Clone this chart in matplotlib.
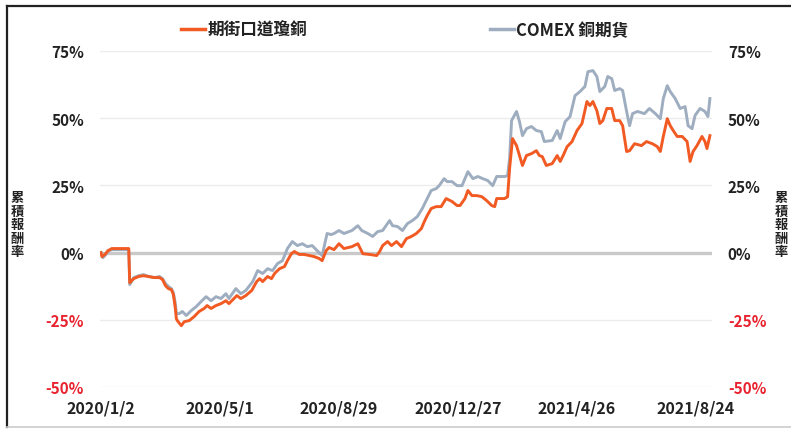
import pandas as pd
import matplotlib.pyplot as plt
from matplotlib.lines import Line2D

plt.rcParams['font.family'] = ['Noto Sans CJK TC', 'DejaVu Sans']

START = pd.Timestamp('2020-01-02')

# 期街口道瓊銅 (cumulative return, %), days since 2020/1/2
etf_days = [0, 1, 4, 7, 11, 28, 29, 33, 38, 43, 48, 54, 59, 62, 65, 68, 71, 73, 75,
            76, 77, 81, 84, 89, 94, 99, 104, 107, 111, 116, 121, 126, 129, 134, 137,
            141, 146, 152, 157, 160, 163, 168, 172, 175, 180, 185, 188, 192, 195,
            200, 205, 210, 215, 220, 223, 227, 230, 235, 240, 245, 253, 259, 264,
            271, 278, 281, 284, 289, 293, 298, 303, 308, 313, 318, 323, 326, 329,
            333, 338, 343, 348, 354, 359, 362, 367, 370, 374, 379, 384, 389, 394,
            397, 399, 407, 410, 412, 415, 419, 422, 425, 429, 434, 439, 442, 445,
            449, 455, 460, 463, 466, 470, 475, 480, 485, 490, 493, 496, 500, 503,
            506, 510, 515, 518, 523, 526, 530, 533, 538, 545, 550, 556, 561, 564,
            567, 571, 574, 577, 581, 586, 591, 594, 597, 601, 606, 609, 611, 614]
etf_ret = [0.0, -1.5, -0.7, 0.7, 1.5, 1.5, -11.2, -9.7, -8.9, -8.6, -8.9, -9.3, -9.3,
           -10.0, -12.3, -13.4, -13.8, -15.6, -20.8, -24.6, -25.3, -27.2, -25.7,
           -25.3, -23.8, -21.9, -20.8, -19.7, -20.8, -19.7, -19.0, -17.9, -19.0,
           -17.1, -16.0, -17.1, -16.0, -14.1, -10.8, -9.7, -10.8, -8.9, -9.7, -7.8,
           -6.0, -5.2, -3.0, -0.4, 0.4, -0.7, -0.7, -1.1, -1.5, -2.2, -3.0, 0.7, 1.9,
           1.1, 3.3, 1.5, 2.2, 3.3, -0.4, -0.7, -1.1, 0.4, 2.6, 4.1, 2.6, 4.1, 2.2,
           5.2, 6.0, 7.1, 8.9, 11.5, 13.8, 16.4, 17.1, 17.1, 20.1, 19.0, 17.5, 17.5,
           20.1, 23.1, 21.2, 21.2, 20.8, 19.3, 17.5, 17.1, 20.1, 20.1, 20.8, 31.2,
           42.4, 39.8, 36.1, 32.4, 36.1, 36.8, 37.9, 36.1, 35.7, 32.4, 33.1, 36.1,
           33.9, 36.1, 39.4, 41.3, 45.4, 48.0, 56.2, 54.7, 56.2, 52.8, 48.0, 49.1,
           53.6, 53.6, 49.1, 49.1, 47.2, 37.6, 37.9, 40.5, 39.8, 41.3, 40.5, 39.4,
           37.6, 43.2, 49.8, 47.2, 45.4, 43.2, 43.2, 41.3, 33.9, 37.6, 39.8, 43.2,
           41.3, 38.7, 43.5]

# COMEX 銅期貨 (cumulative return, %)
comex_days = [0, 2, 5, 8, 11, 28, 29, 33, 38, 43, 48, 54, 59, 62, 65, 68, 71, 73, 75,
              76, 79, 82, 86, 91, 96, 101, 106, 111, 116, 121, 126, 129, 136, 141,
              146, 153, 158, 163, 168, 173, 178, 183, 188, 193, 198, 203, 208, 213,
              218, 223, 228, 232, 235, 240, 245, 253, 259, 263, 269, 274, 279, 284,
              291, 294, 299, 304, 309, 314, 319, 324, 329, 333, 338, 341, 346, 349,
              354, 359, 364, 367, 370, 375, 380, 385, 390, 395, 399, 407, 410, 412,
              414, 419, 422, 425, 429, 434, 439, 444, 447, 455, 460, 463, 468, 473,
              478, 483, 488, 491, 496, 500, 503, 508, 511, 515, 518, 523, 526, 530,
              533, 536, 541, 548, 553, 559, 564, 567, 571, 574, 579, 584, 589, 592,
              596, 599, 604, 609, 612, 614]
comex_ret = [0.0, -1.9, -0.7, 0.7, 1.1, 1.1, -11.9, -9.3, -8.6, -8.2, -8.9, -9.3,
             -8.9, -9.7, -11.5, -12.6, -13.4, -14.9, -19.0, -22.7, -22.7, -21.9,
             -23.4, -21.6, -20.1, -18.2, -16.4, -17.9, -16.4, -17.1, -15.3, -17.1,
             -13.4, -15.3, -14.1, -10.8, -6.7, -7.8, -6.0, -6.7, -4.1, -3.0, 1.5,
             4.1, 2.6, 3.3, 2.2, 2.6, 0.7, -1.1, 7.1, 6.7, 7.1, 8.2, 7.1, 8.2, 10.0,
             8.2, 7.1, 6.0, 7.8, 8.2, 11.9, 10.0, 9.7, 8.2, 10.8, 11.9, 13.4, 16.4,
             20.1, 23.1, 23.8, 24.9, 27.5, 26.4, 26.4, 24.9, 24.9, 27.5, 30.1, 27.5,
             28.3, 27.5, 26.8, 24.9, 28.3, 28.3, 28.6, 35.0, 49.1, 52.5, 48.7, 43.5,
             46.1, 46.9, 45.4, 45.0, 41.3, 41.7, 45.4, 42.4, 48.7, 50.6, 58.4, 59.9,
             61.8, 67.3, 67.7, 65.5, 59.9, 61.8, 65.5, 64.7, 60.3, 61.0, 60.3, 52.5,
             47.2, 51.7, 52.5, 51.7, 53.6, 51.7, 49.8, 57.3, 62.1, 59.9, 57.3, 53.6,
             54.3, 47.2, 46.1, 51.0, 53.6, 52.5, 50.6, 57.3]

tick_dates = ['2020/1/2', '2020/5/1', '2020/8/29', '2020/12/27', '2021/4/26', '2021/8/24']
y_ticks = [-50, -25, 0, 25, 50, 75]

etf_x = START + pd.to_timedelta(etf_days, unit='D')
comex_x = START + pd.to_timedelta(comex_days, unit='D')

orange = '#f15a22'
steel = '#9eadbf'
red = '#e8232f'
ink = '#222222'

fig = plt.figure(figsize=(7.91, 4.31), dpi=100)
ax = fig.add_axes([0.1264, 0.0998, 0.7736, 0.7796])

# gridlines, 0% drawn heavier
for v in y_ticks:
    if v == 0:
        ax.axhline(v, color='#c9c9c9', lw=2.4, zorder=1)
    else:
        ax.axhline(v, color='#ececec', lw=1.0, zorder=1)

ax.plot(comex_x, comex_ret, color=steel, lw=2.1, zorder=3)
ax.plot(etf_x, etf_ret, color=orange, lw=2.1, zorder=4)

ax.set_ylim(-50, 75)
ax.set_xlim(START - pd.Timedelta(days=1), START + pd.Timedelta(days=616))
for s in ax.spines.values():
    s.set_visible(False)

ax.set_yticks(y_ticks)
ax.set_yticklabels([f'{v}%' for v in y_ticks])
ax.tick_params(axis='y', length=0, pad=11.5, labelsize=11, labelright=True)
for t in ax.yaxis.get_major_ticks():
    c = red if t.label1.get_text().startswith('-') else ink
    for lbl in (t.label1, t.label2):
        lbl.set_color(c)
        lbl.set_fontweight('bold')

xt = pd.to_datetime(tick_dates, format='%Y/%m/%d')
ax.set_xticks(xt)
ax.set_xticklabels(tick_dates)
ax.tick_params(axis='x', length=0, pad=9, labelsize=11.5, labelcolor=ink)
for lbl in ax.get_xticklabels():
    lbl.set_fontweight('bold')

# vertical axis titles, one character per line
ytitle = '\n'.join('累積報酬率')
for xpos in (0.022, 0.988):
    fig.text(xpos, 0.478, ytitle, ha='center', va='center', fontsize=9.5,
             fontweight='bold', color=ink, linespacing=0.95)

# legend
handles = [Line2D([], [], color=orange, lw=2.5), Line2D([], [], color=steel, lw=2.5)]
leg = fig.legend(handles, ['期街口道瓊銅', 'COMEX 銅期貨'], loc='center',
                 bbox_to_anchor=(0.512, 0.928), ncol=2, frameon=False,
                 fontsize=12, handlelength=1.4, handletextpad=0.15,
                 columnspacing=11.0)
for t in leg.get_texts():
    t.set_color(ink)
    t.set_fontweight('bold')

# outer frame
fig.add_artist(Line2D([0.009, 1.0], [0.984, 0.984], transform=fig.transFigure,
                      color=ink, lw=1.6))
fig.add_artist(Line2D([0.009, 0.009], [0.984, 0.007], transform=fig.transFigure,
                      color=ink, lw=1.6))
fig.add_artist(Line2D([0.009, 1.0], [0.007, 0.007], transform=fig.transFigure,
                      color='#cccccc', lw=1.2))

fig.savefig('out.png', dpi=100)
